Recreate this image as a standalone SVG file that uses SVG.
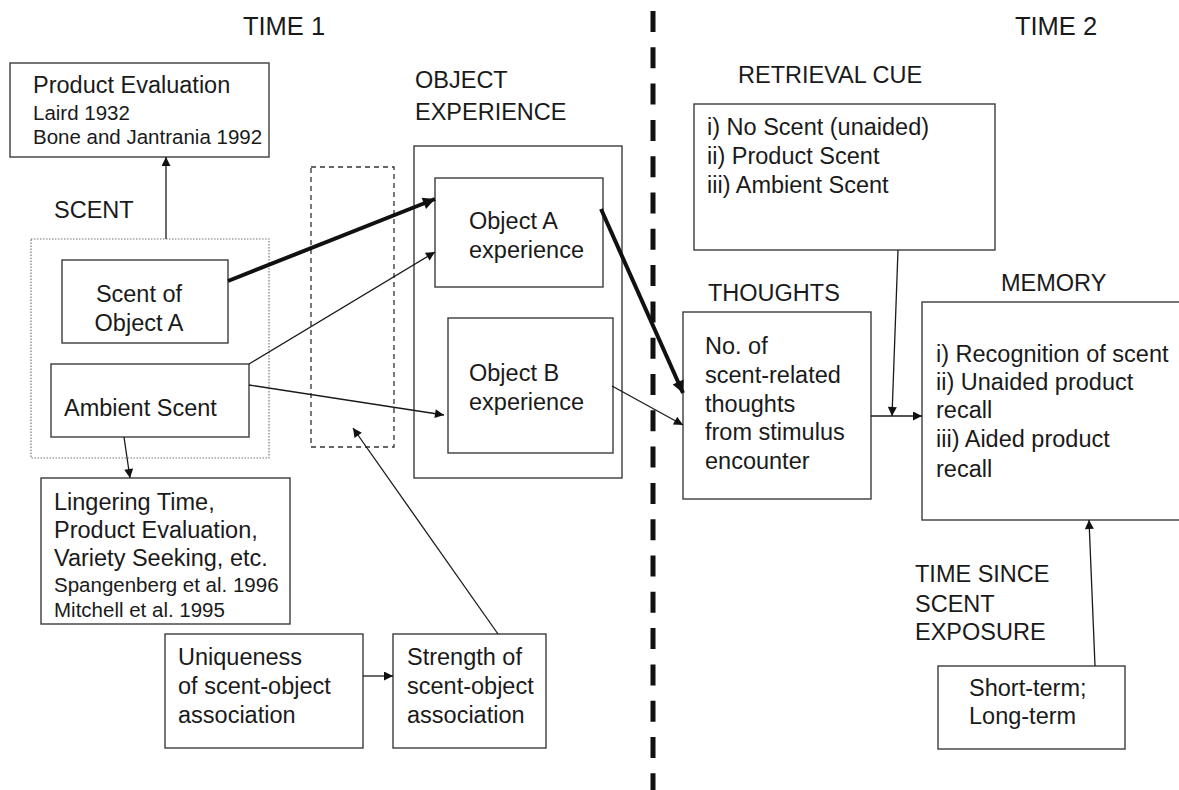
<svg xmlns="http://www.w3.org/2000/svg" width="1179" height="790" viewBox="0 0 1179 790">
<defs>
<style>
.box{fill:none;stroke:#3c3c3c;stroke-width:1.4}
.t{font-family:"Liberation Sans",Arial,sans-serif;font-size:23.5px;fill:#1a1a1a}
.s{font-family:"Liberation Sans",Arial,sans-serif;font-size:20.5px;fill:#1a1a1a}
.h{font-family:"Liberation Sans",Arial,sans-serif;font-size:25.5px;fill:#1a1a1a}
.c{stroke:#1a1a1a;stroke-width:1.3;fill:none}
.ck{stroke:#111;stroke-width:4;fill:none}
</style>
<marker id="a" viewBox="0 0 10 10" refX="10" refY="5" markerWidth="11" markerHeight="9" markerUnits="userSpaceOnUse" orient="auto"><path d="M0,0 L10,5 L0,10 z" fill="#111"/></marker>
<marker id="ak" viewBox="0 0 10 10" refX="10" refY="5" markerWidth="15" markerHeight="12" markerUnits="userSpaceOnUse" orient="auto"><path d="M0,0 L10,5 L0,10 z" fill="#111"/></marker>
</defs>
<rect width="1179" height="790" fill="#fff"/>

<g id="headings">
<text class="h" x="284" y="35" text-anchor="middle">TIME 1</text>
<text class="h" x="1056" y="35" text-anchor="middle">TIME 2</text>
</g>

<line id="divider" x1="653" y1="11" x2="653" y2="790" stroke="#111" stroke-width="5" stroke-dasharray="21 15.3"/>

<g id="product-evaluation">
<rect class="box" x="10" y="63" width="259" height="94"/>
<text class="t" x="33" y="93">Product Evaluation</text>
<text class="s" x="33" y="120">Laird 1932</text>
<text class="s" x="33" y="144">Bone and Jantrania 1992</text>
</g>

<g id="scent">
<text class="t" x="54" y="218">SCENT</text>
<rect x="31" y="239" width="238" height="219" fill="none" stroke="#777" stroke-width="1.2" stroke-dasharray="1.5 1.5"/>
</g>

<g id="scent-object-a">
<rect class="box" x="62" y="260" width="166" height="83"/>
<text class="t" x="139" y="302" text-anchor="middle">Scent of</text>
<text class="t" x="139" y="331" text-anchor="middle">Object A</text>
</g>

<g id="ambient-scent">
<rect class="box" x="51" y="364" width="198" height="73"/>
<text class="t" x="64" y="416">Ambient Scent</text>
</g>

<g id="lingering">
<rect class="box" x="41" y="478" width="249" height="146"/>
<text class="t" x="54" y="510">Lingering Time,</text>
<text class="t" x="54" y="538">Product Evaluation,</text>
<text class="t" x="54" y="566">Variety Seeking, etc.</text>
<text class="s" x="54" y="592">Spangenberg et al. 1996</text>
<text class="s" x="54" y="617">Mitchell et al. 1995</text>
</g>

<g id="association-region">
<rect x="311" y="167" width="83" height="280" fill="none" stroke="#333" stroke-width="1.3" stroke-dasharray="5 4"/>
</g>

<g id="object-experience">
<text class="t" x="415" y="88">OBJECT</text>
<text class="t" x="415" y="120">EXPERIENCE</text>
<rect class="box" x="414" y="146" width="208" height="332"/>
</g>

<g id="object-a">
<rect class="box" x="435" y="178" width="168" height="109"/>
<text class="t" x="469" y="229">Object A</text>
<text class="t" x="469" y="258">experience</text>
</g>

<g id="object-b">
<rect class="box" x="448" y="318" width="165" height="135"/>
<text class="t" x="469" y="381">Object B</text>
<text class="t" x="469" y="410">experience</text>
</g>

<g id="uniqueness">
<rect class="box" x="165" y="634" width="198" height="114"/>
<text class="t" x="178" y="665">Uniqueness</text>
<text class="t" x="178" y="694">of scent-object</text>
<text class="t" x="178" y="723">association</text>
</g>

<g id="strength">
<rect class="box" x="393" y="634" width="153" height="114"/>
<text class="t" x="407" y="665">Strength of</text>
<text class="t" x="407" y="694">scent-object</text>
<text class="t" x="407" y="723">association</text>
</g>

<g id="retrieval-cue">
<text class="t" x="738" y="83">RETRIEVAL CUE</text>
<rect class="box" x="694" y="104" width="301" height="146"/>
<text class="t" x="707" y="135">i) No Scent (unaided)</text>
<text class="t" x="707" y="164">ii) Product Scent</text>
<text class="t" x="707" y="193">iii) Ambient Scent</text>
</g>

<g id="thoughts">
<text class="t" x="708" y="301">THOUGHTS</text>
<rect class="box" x="683" y="312" width="188" height="187"/>
<text class="t" x="705" y="354">No. of</text>
<text class="t" x="705" y="383">scent-related</text>
<text class="t" x="705" y="412">thoughts</text>
<text class="t" x="705" y="440">from stimulus</text>
<text class="t" x="705" y="469">encounter</text>
</g>

<g id="memory">
<text class="t" x="1001" y="291">MEMORY</text>
<rect class="box" x="922" y="302" width="270" height="218"/>
<text class="t" x="936" y="362">i) Recognition of scent</text>
<text class="t" x="936" y="390">ii) Unaided product</text>
<text class="t" x="936" y="418">recall</text>
<text class="t" x="936" y="447">iii) Aided product</text>
<text class="t" x="936" y="477">recall</text>
</g>

<g id="time-since">
<text class="t" x="915" y="582">TIME SINCE</text>
<text class="t" x="915" y="612">SCENT</text>
<text class="t" x="915" y="640">EXPOSURE</text>
</g>

<g id="short-long">
<rect class="box" x="938" y="666" width="187" height="83"/>
<text class="t" x="969" y="696">Short-term;</text>
<text class="t" x="969" y="724">Long-term</text>
</g>

<g id="connectors">
<line class="c" x1="166" y1="239" x2="166" y2="157" marker-end="url(#a)"/>
<line class="c" x1="124" y1="437" x2="130" y2="478" marker-end="url(#a)"/>
<line class="ck" x1="228" y1="281" x2="435" y2="199" marker-end="url(#ak)"/>
<line class="c" x1="249" y1="364" x2="435" y2="252" marker-end="url(#a)"/>
<line class="c" x1="249" y1="385" x2="444" y2="415" marker-end="url(#a)"/>
<line class="ck" x1="601" y1="209" x2="683" y2="393" marker-end="url(#ak)"/>
<line class="c" x1="612" y1="386" x2="683" y2="425" marker-end="url(#a)"/>
<line class="c" x1="498" y1="634" x2="353" y2="428" marker-end="url(#a)"/>
<line class="c" x1="363" y1="676" x2="393" y2="676" marker-end="url(#a)"/>
<line class="c" x1="871" y1="416" x2="922" y2="416" marker-end="url(#a)"/>
<line class="c" x1="898" y1="250" x2="892" y2="416" marker-end="url(#a)"/>
<line class="c" x1="1095" y1="666" x2="1089" y2="520" marker-end="url(#a)"/>
</g>
</svg>
